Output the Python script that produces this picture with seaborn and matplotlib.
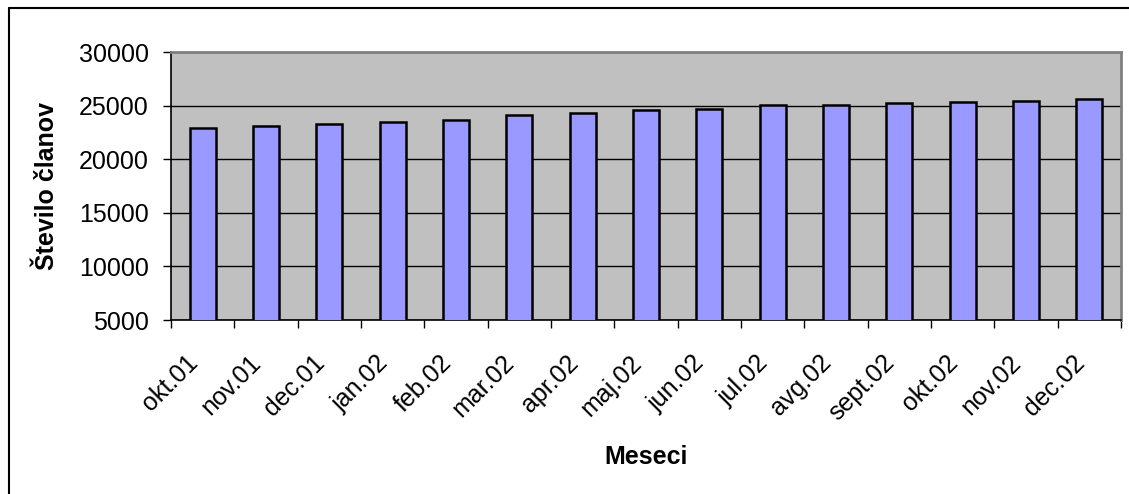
import matplotlib
matplotlib.use("Agg")
import matplotlib.pyplot as plt
from matplotlib.lines import Line2D
from matplotlib.ticker import FixedLocator
import seaborn as sns
import pandas as pd

# Monthly membership counts
months = ["okt.01", "nov.01", "dec.01", "jan.02", "feb.02", "mar.02", "apr.02",
          "maj.02", "jun.02", "jul.02", "avg.02", "sept.02", "okt.02", "nov.02", "dec.02"]
members = [22900, 23090, 23250, 23440, 23690, 24090, 24310,
           24600, 24690, 25030, 25060, 25250, 25310, 25470, 25590]
y_ticks = [5000, 10000, 15000, 20000, 25000, 30000]

df = pd.DataFrame({"Meseci": months, "Število članov": members})

sns.set_theme(style="white")
plt.rcParams["font.family"] = ["Liberation Sans", "DejaVu Sans"]
plt.rcParams["text.color"] = "black"
plt.rcParams["axes.labelcolor"] = "black"
plt.rcParams["xtick.color"] = "black"
plt.rcParams["ytick.color"] = "black"

W, H = 1129, 494
fig = plt.figure(figsize=(W / 100, H / 100), dpi=100)
ax = fig.add_axes([171 / W, 1 - 320 / H, (1121 - 171) / W, (320 - 52) / H])
ax.set_facecolor("#C0C0C0")

sns.barplot(data=df, x="Meseci", y="Število članov", ax=ax, color="#9999FF",
            saturation=1, width=0.41, edgecolor="black", linewidth=1.8, zorder=3)

ax.set_ylim(5000, 30000)
ax.set_xlim(-0.5, len(months) - 0.5)
ax.set_yticks(y_ticks)
ax.set_yticklabels([str(v) for v in y_ticks], fontsize=18, color="black")
ax.yaxis.grid(True, color="black", linewidth=1.0, zorder=1)
ax.set_axisbelow(True)

# category labels at the centers, tick marks at the boundaries
ax.set_xticks(range(len(months)))
ax.set_xticklabels(months, rotation=45, ha="right", va="top", fontsize=18, color="black")
ax.xaxis.set_minor_locator(FixedLocator([i - 0.5 for i in range(len(months) + 1)]))
ax.tick_params(axis="x", which="major", length=0, pad=22)
ax.tick_params(axis="x", which="minor", length=6, width=1, color="black",
               direction="out", bottom=True)
ax.tick_params(axis="y", which="major", length=6, width=1, color="black",
               direction="out", left=True, pad=10)

ax.set_xlabel("Meseci", fontsize=18, fontweight="bold", labelpad=14, color="black")
ax.set_ylabel("Število članov", fontsize=18, fontweight="bold", labelpad=14, color="black")

for side in ("left", "bottom"):
    ax.spines[side].set_color("black")
    ax.spines[side].set_linewidth(1.2)
for side in ("top", "right"):
    ax.spines[side].set_color("#808080")
    ax.spines[side].set_linewidth(2)

# chart-area frame
fig.add_artist(Line2D([9 / W, 9 / W], [0, 1 - 8 / H], color="black", linewidth=1.5,
                      transform=fig.transFigure))
fig.add_artist(Line2D([9 / W, 1], [1 - 8 / H, 1 - 8 / H], color="black", linewidth=1.5,
                      transform=fig.transFigure))

fig.savefig("out.png", dpi=100, facecolor="white")
